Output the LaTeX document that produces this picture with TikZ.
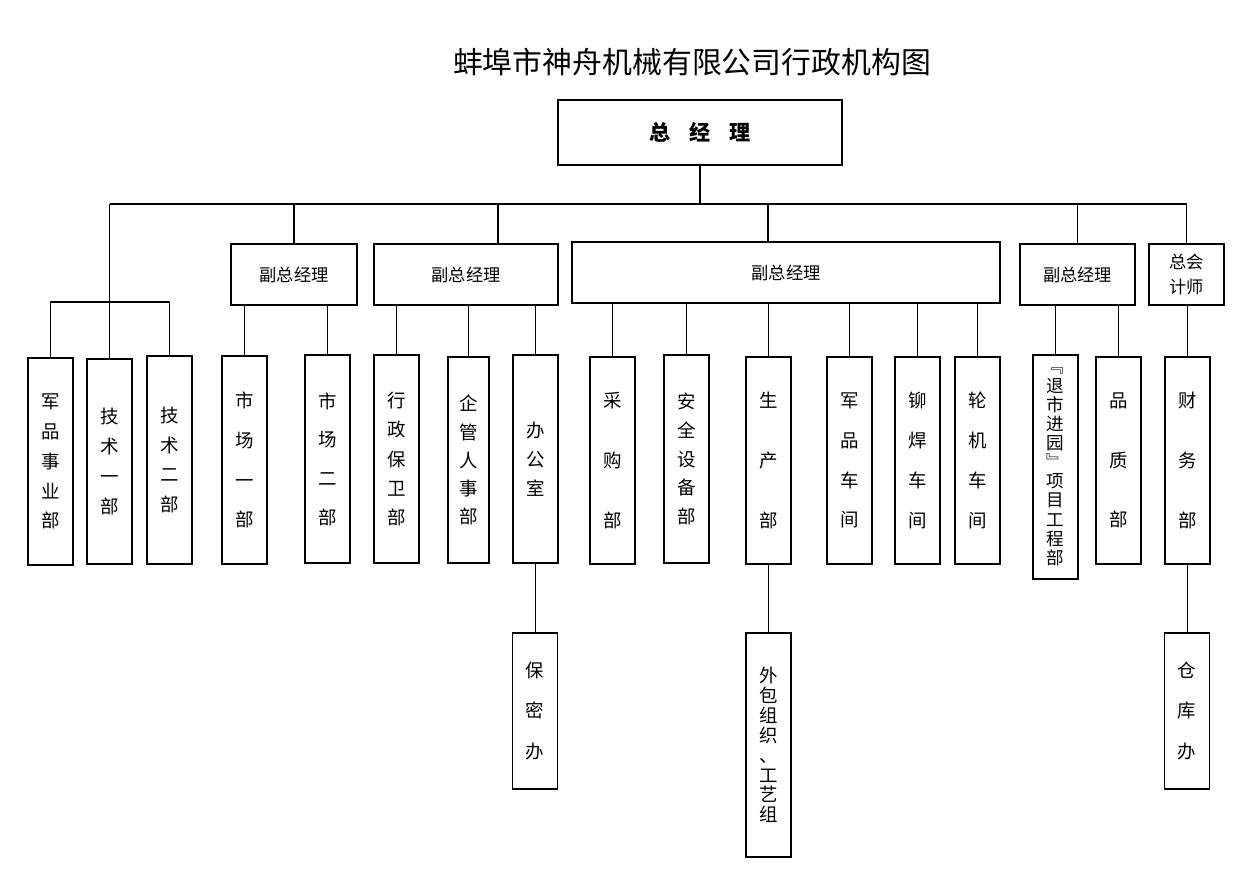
\documentclass[tikz,border=0pt]{standalone}
\usepackage{fontspec}
\newfontfamily\cjk{Noto Sans CJK SC}
\usepackage{tikz}
\usetikzlibrary{positioning}

\begin{document}
\begin{tikzpicture}[
    x=0.02cm, y=-0.02cm,
    line width=0.7pt,
    topbox/.style={
        draw,
        rectangle,
        minimum width=5.68cm,
        minimum height=1.3cm,
        inner sep=0pt,
        font=\cjk\bfseries\fontsize{12pt}{14pt}\selectfont
    },
    vpbox/.style={
        draw,
        rectangle,
        minimum height=1.22cm,
        inner sep=0pt,
        align=center,
        font=\cjk\fontsize{9.8pt}{14.7pt}\selectfont
    },
    leaf/.style={
        draw,
        rectangle,
        minimum width=0.9cm,
        inner sep=0pt,
        align=center,
        font=\cjk\fontsize{10.5pt}{#1}\selectfont
    },
    link/.style={
        draw,
        line width=0.7pt
    }
]
\useasboundingbox (0,0) rectangle (1259,883);

% Title and general manager
\node[font=\cjk\fontsize{17pt}{20pt}\selectfont] at (692,62) (title) {蚌埠市神舟机械有限公司行政机构图};
\node[topbox] at (700,132.5) (gm) {总\hspace{0.9em}经\hspace{0.9em}理};

% Row 1 (y=274): deputies
\node[vpbox, minimum width=2.52cm] at (294,274.5)    (vp1)  {副总经理};
\node[vpbox, minimum width=3.68cm] at (466,274.5)    (vp2)  {副总经理};
\node[vpbox, minimum width=8.56cm] at (786,272.5)    (vp3)  {副总经理};
\node[vpbox, minimum width=2.3cm]  at (1077.5,274.5) (vp4)  {副总经理};
\node[vpbox, minimum width=1.5cm]  at (1186.5,274.5) (zkjs) {总会\\计师};

% Row 2 (y=460): departments
\node[leaf=17pt,   minimum height=4.14cm] at (50.5,461.5)  (jpsy) {军\\品\\事\\业\\部};
\node[leaf=17pt,   minimum height=4.1cm]  at (109.5,461.5) (js1)  {技\\术\\一\\部};
\node[leaf=17pt,   minimum height=4.16cm] at (169.5,460)   (js2)  {技\\术\\二\\部};
\node[leaf=22.7pt, minimum height=4.16cm] at (244.5,460)   (sc1)  {市\\场\\一\\部};
\node[leaf=22pt,   minimum height=4.16cm] at (327.5,459)   (sc2)  {市\\场\\二\\部};
\node[leaf=16.7pt, minimum height=4.16cm] at (396.5,459)   (xzbw) {行\\政\\保\\卫\\部};
\node[leaf=16pt,   minimum height=4.12cm, minimum width=0.82cm] at (468.5,460) (qgrs) {企\\管\\人\\事\\部};
\node[leaf=16.4pt, minimum height=4.16cm] at (535.5,459)   (bgs)  {办\\公\\室};
\node[leaf=34pt,   minimum height=4.14cm] at (612.5,460.5) (cgb)  {采\\购\\部};
\node[leaf=16.4pt, minimum height=4.16cm] at (686.5,459)   (aqsb) {安\\全\\设\\备\\部};
\node[leaf=34pt,   minimum height=4.14cm] at (768.5,460.5) (scb)  {生\\产\\部};
\node[leaf=22.7pt, minimum height=4.14cm] at (849.5,460.5) (jpcj) {军\\品\\车\\间};
\node[leaf=22.7pt, minimum height=4.14cm] at (917.5,460.5) (mhcj) {铆\\焊\\车\\间};
\node[leaf=22.7pt, minimum height=4.14cm] at (977.5,460.5) (ljcj) {轮\\机\\车\\间};
\node[leaf, minimum height=4.48cm, font=\cjk\fontsize{10pt}{10.9pt}\selectfont]
    at (1055.5,467) (xmgc) {﹃\\退\\市\\进\\园\\﹄\\项\\目\\工\\程\\部};
\node[leaf=34pt,   minimum height=4.14cm] at (1118.5,460.5) (pzb) {品\\质\\部};
\node[leaf=34pt,   minimum height=4.14cm] at (1187.5,460.5) (cwb) {财\\务\\部};

% Row 3 (y=711): sub offices
\node[leaf=23pt,   minimum height=3.12cm] at (535,711)   (bmb)  {保\\密\\办};
\node[leaf=11.3pt, minimum height=4.48cm] at (768.5,745) (wbzz) {外\\包\\组\\织\\、\\工\\艺\\组};
\node[leaf=23pt,   minimum height=3.12cm] at (1187,711)  (ckb)  {仓\\库\\办};

% Bus under general manager
\coordinate (busL) at (109.5,204);
\coordinate (busR) at (1187,204);
\coordinate (b2) at (498,204);
\coordinate (b3) at (768,204);
\coordinate (lbar) at (109.5,302);

\draw[link] (busL) -- (busR);
\draw[link] (gm.south) -- (gm.south |- busL);
\draw[link] (vp1.north) -- (vp1.north |- busL);
\draw[link] (b2) -- (b2 |- vp2.north);
\draw[link] (b3) -- (b3 |- vp3.north);
\draw[link] (vp4.north) -- (vp4.north |- busL);
\draw[link] (zkjs.north) -- (zkjs.north |- busL);

% Left group
\draw[link] (busL) -- (js1.north);
\draw[link] (jpsy.north) -- (jpsy.north |- lbar) -- (js2.north |- lbar) -- (js2.north);

% Deputies to departments
\foreach \vp/\dep in {vp1/sc1, vp1/sc2, vp2/xzbw, vp2/qgrs, vp2/bgs,
                      vp3/cgb, vp3/aqsb, vp3/scb, vp3/jpcj, vp3/mhcj, vp3/ljcj,
                      vp4/xmgc, vp4/pzb, zkjs/cwb}
    \draw[link] (\dep.north) -- (\dep.north |- \vp.south);

% Departments to sub offices
\draw[link] (bgs.south) -- (bgs.south |- bmb.north);
\draw[link] (scb.south) -- (wbzz.north);
\draw[link] (cwb.south) -- (cwb.south |- ckb.north);

\end{tikzpicture}
\end{document}
